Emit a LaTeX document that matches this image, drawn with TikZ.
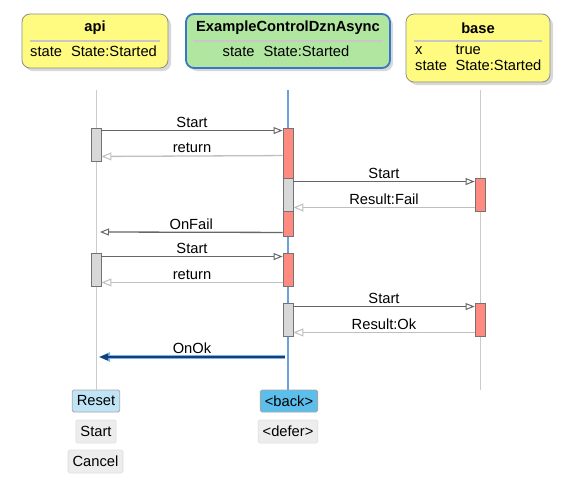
\documentclass[tikz,border=0pt]{standalone}
\usepackage{fontspec}
\setmainfont{Liberation Sans}
\usetikzlibrary{arrows.meta,shadows}

\definecolor{hdyellow}{RGB}{255,250,128}
\definecolor{hdgreen}{RGB}{176,230,160}
\definecolor{hdblue}{RGB}{58,118,198}
\definecolor{actred}{RGB}{255,138,128}
\definecolor{actgrey}{RGB}{216,216,216}
\definecolor{lifeblue}{RGB}{104,160,224}
\definecolor{okdark}{RGB}{22,62,122}
\definecolor{okglow}{RGB}{120,180,235}
\definecolor{evlight}{RGB}{190,228,246}
\definecolor{evblue}{RGB}{92,190,235}

\begin{document}
\begin{tikzpicture}[
  x=1pt, y=-1pt,
  font=\fontsize{14.7}{16}\selectfont,
  comp/.style={rectangle, rounded corners=8pt, draw=black!45, line width=0.8pt,
               fill=hdyellow, drop shadow={shadow xshift=3pt, shadow yshift=-3pt, fill=black!30}},
  ctrl/.style={comp, draw=hdblue, line width=1.8pt, fill=hdgreen},
  sep/.style={draw=black!22, line width=1.6pt},
  life/.style={draw=black!20, line width=0.8pt},
  act/.style={rectangle, draw=black!55, line width=0.9pt, minimum width=10pt,
              inner sep=0pt, fill=actred},
  inner/.style={act, fill=actgrey},
  call/.style={draw=black!60, line width=1.3pt,
               -{Triangle[open, length=9pt, width=7pt, line width=1pt]}},
  ret/.style={draw=black!25, line width=1.3pt,
              -{Triangle[open, length=10pt, width=8pt, line width=1pt]}},
  lbl/.style={above, midway, inner sep=2.5pt, text depth=0pt, text=black},
  event/.style={rectangle, rounded corners=1.5pt, draw=black!12, line width=0.8pt,
                fill=black!7, minimum height=23pt, inner xsep=4.5pt, inner ysep=0pt}
]
\useasboundingbox (0,0) rectangle (570,490);

% Component headers
\node[comp, minimum width=146pt, minimum height=54pt] (api) at (95,41) {};
\node[font=\fontsize{14.7}{16}\selectfont\bfseries] (apiT) at (95,28) {api};
\draw[sep] ([xshift=8pt]api.west) -- ([xshift=-8pt]api.east);
\node[anchor=west, inner sep=0pt] (apiS) at (30,51) {state\hspace{9pt}State:Started};

\node[ctrl, minimum width=204pt, minimum height=54pt] (ctl) at (288,41) {};
\node[font=\fontsize{14.7}{16}\selectfont\bfseries] (ctlT) at (288,28) {ExampleControlDznAsync};
\draw[sep] ([xshift=8pt]ctl.west) -- ([xshift=-8pt]ctl.east);
\node[inner sep=0pt] (ctlS) at (286,51) {state\hspace{9pt}State:Started};

\node[comp, minimum width=144pt, minimum height=68pt] (base) at (478,48) {};
\node[font=\fontsize{14.7}{16}\selectfont\bfseries] (baseT) at (478,28) {base};
\draw[sep] ([xshift=8pt,yshift=7pt]base.west) -- ([xshift=-8pt,yshift=7pt]base.east);
\node[anchor=west, inner sep=0pt] (baseS) at (415,59)
  {\begin{tabular}{@{}l@{\hspace{8.5pt}}l@{}}x & true\\ state & State:Started\end{tabular}};

% Events below the lifelines
\node[event, fill=evlight, draw=black!35, minimum height=22pt] (reset) at (96,401) {Reset};
\node[event] (start) at (96,431.5) {Start};
\node[event] (cancel) at (95.5,461.5) {Cancel};
\node[event, fill=evblue, draw=black!35, minimum height=22pt] (back) at (289,401) {<back>};
\node[event] (defer) at (288,431.5) {<defer>};

% Lifelines
\coordinate (apiTop) at (96,90);
\coordinate (ctlTop) at (288,90);
\coordinate (baseTop) at (480,90);
\coordinate (baseEnd) at (480,390);
\draw[life] (apiTop) -- (apiTop |- reset.north);
\draw[life, draw=lifeblue, line width=1.8pt] (ctlTop) -- (ctlTop |- back.north);
\draw[life] (baseTop) -- (baseEnd);

% Activations
\node[act, minimum height=33pt, fill=actgrey] (apiA1) at (96,144.5) {};
\node[act, minimum height=108pt] (ctlA1) at (288,182) {};
\node[inner, minimum height=33pt] (ctlG1) at (288,194.5) {};
\node[act, minimum height=33pt] (baseA1) at (480,194.5) {};
\node[act, minimum height=33pt, fill=actgrey] (apiA2) at (96,269.5) {};
\node[act, minimum height=33pt] (ctlA2) at (288,269.5) {};
\node[inner, minimum height=33pt] (ctlG2) at (288,319.5) {};
\node[act, minimum height=33pt] (baseA2) at (480,319.5) {};

% Messages
\draw[call] ([yshift=-3pt]apiA1.north east) -- ([yshift=-3pt]ctlA1.north west) node[lbl] {Start};
\draw[ret] ([yshift=-28pt]ctlA1.north west) -- ([yshift=5pt]apiA1.south east) node[lbl] {return};
\draw[call] ([yshift=-4pt]ctlG1.north east) -- ([yshift=-4pt]baseA1.north west) node[lbl] {Start};
\draw[ret] ([yshift=4pt]baseA1.south west) -- ([yshift=4pt]ctlG1.south east) node[lbl] {Result:Fail};
\coordinate (apiF) at (100,232);
\draw[call] ([yshift=4pt]ctlA1.south west) -- (apiF) node[lbl] {OnFail};
\draw[call] ([yshift=-4pt]apiA2.north east) -- ([yshift=-4pt]ctlA2.north west) node[lbl] {Start};
\draw[ret] ([yshift=4pt]ctlA2.south west) -- ([yshift=4pt]apiA2.south east) node[lbl] {return};
\draw[call] ([yshift=-4pt]ctlG2.north east) -- ([yshift=-4pt]baseA2.north west) node[lbl] {Start};
\draw[ret] ([yshift=4pt]baseA2.south west) -- ([yshift=4pt]ctlG2.south east) node[lbl] {Result:Ok};

% Out event on the way back
\coordinate (ctlO) at (285,357);
\coordinate (apiO) at (99,357);
\draw[draw=okglow, line width=4.5pt, -{Triangle[length=11pt, width=9pt]}] (ctlO) -- (apiO);
\draw[draw=okdark, line width=2pt, -{Triangle[length=9pt, width=6.5pt]}] (ctlO) -- (apiO) node[lbl] {OnOk};

\end{tikzpicture}
\end{document}
